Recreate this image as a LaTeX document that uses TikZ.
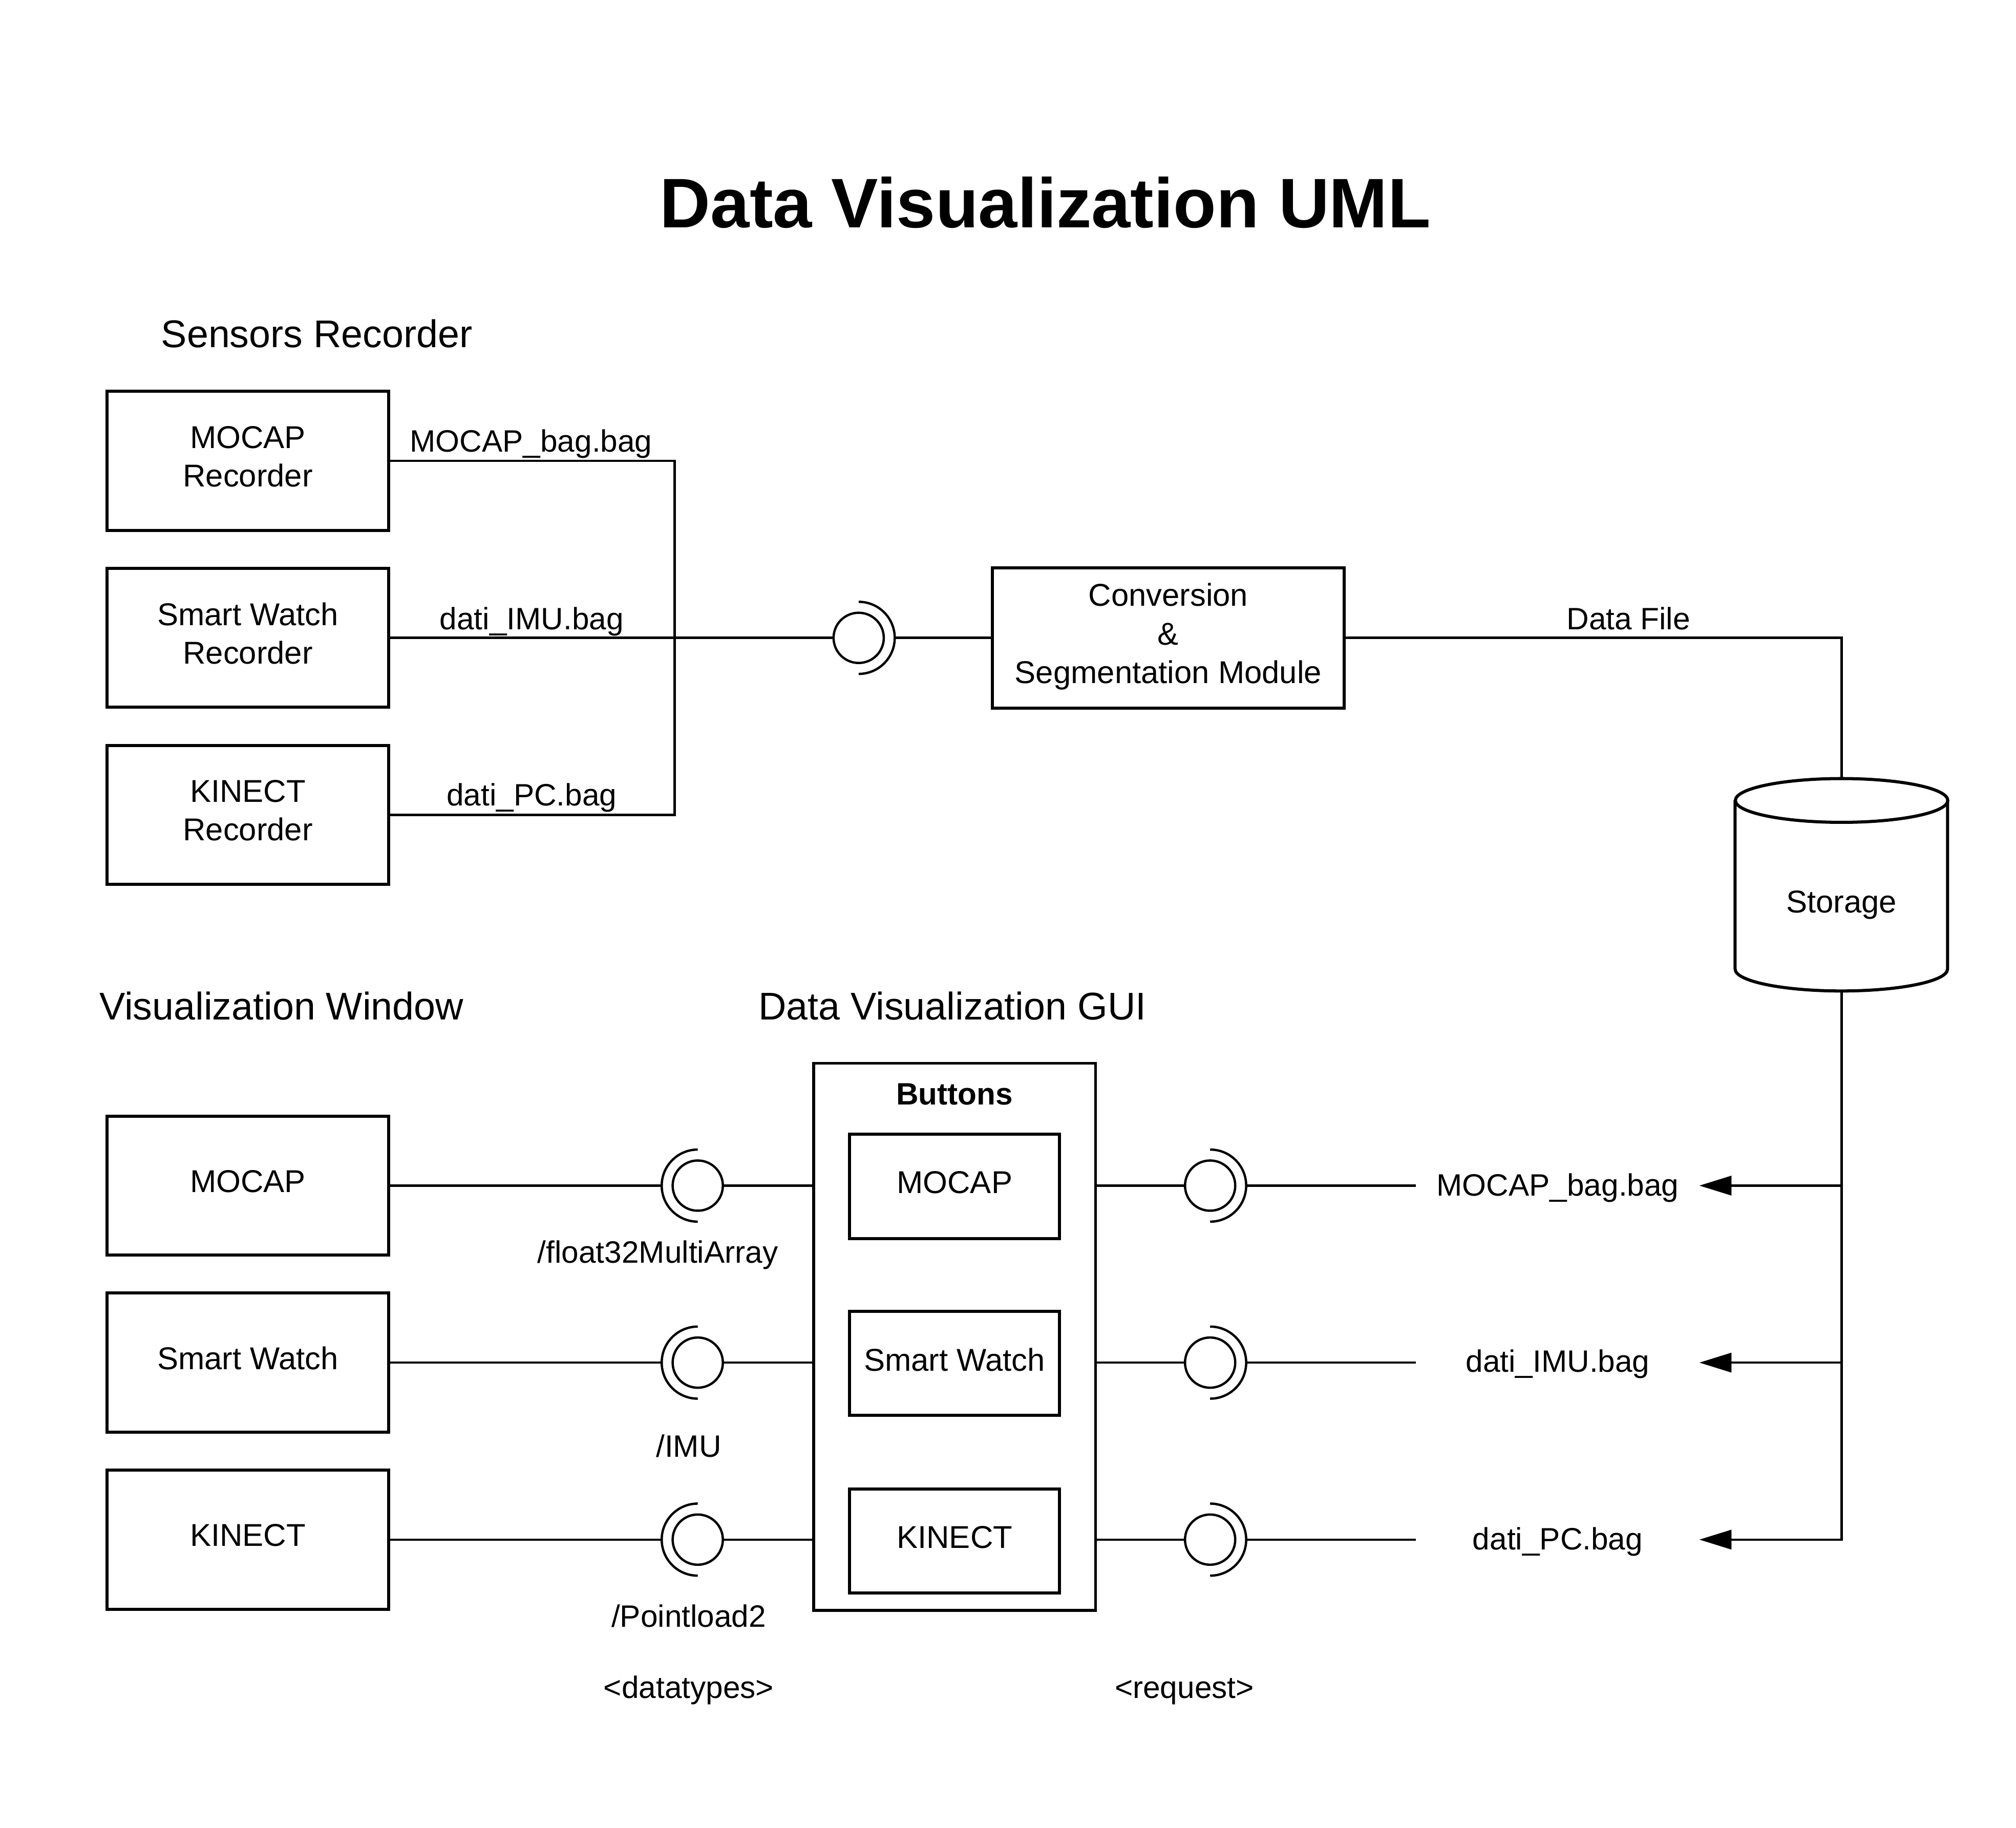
\documentclass[tikz,border=0pt]{standalone}
\usepackage{fontspec}
\setmainfont{Liberation Sans}
\usetikzlibrary{arrows.meta}
\begin{document}
\begin{tikzpicture}[x=1pt,y=-1pt,
  box/.style={draw, line width=2.4pt, minimum width=219pt, minimum height=108pt, inner sep=0pt, align=center, text depth=7pt, font=\fontsize{24.5}{30}\selectfont},
  btn/.style={draw, line width=2.4pt, minimum width=163pt, minimum height=81pt, inner sep=0pt, text depth=6pt, font=\fontsize{24.5}{30}\selectfont},
  conn/.style={line width=1.8pt},
  ball/.style={circle, draw, line width=1.8pt, minimum size=39pt, inner sep=0pt},
  lbl/.style={inner sep=0pt, anchor=base, font=\fontsize{24}{29}\selectfont},
  head/.style={inner sep=0pt, anchor=base west, font=\fontsize{30}{36}\selectfont},
  arr/.style={conn, -{Triangle[length=25pt,width=15pt]}}
]
\useasboundingbox (0,0) rectangle (1566,1420);

% headings
\node[inner sep=0pt, anchor=base, font=\bfseries\fontsize{54.5}{60}\selectfont] (title) at (812,177) {Data Visualization UML};
\node[head] (hSens) at (125,270) {Sensors Recorder};
\node[head] (hVis) at (77,792) {Visualization Window};
\node[head] (hGui) at (589,792) {Data Visualization GUI};

% sensors recorder
\node[box] (mocapRec) at (192.5,358) {MOCAP\\Recorder};
\node[box] (swRec) at (192.5,495.5) {Smart Watch\\Recorder};
\node[box] (kinRec) at (192.5,633) {KINECT\\Recorder};
\node[box, minimum width=273pt, minimum height=109pt] (conv) at (907.5,495.5) {Conversion\\\&\\Segmentation Module};

% storage cylinder
\node[minimum width=165pt, minimum height=165pt, inner sep=0pt] (storage) at (1430.5,687.5) {};
\draw[line width=2.4pt] (storage.north) ++(0,17) ellipse[x radius=82.5, y radius=17];
\draw[line width=2.4pt] (storage.north west) ++(0,17) -- ++(0,131) arc[start angle=180, end angle=0, x radius=82.5, y radius=17] -- ++(0,-131);
\node[lbl, font=\fontsize{24.5}{30}\selectfont] (storLbl) at (1430.5,709) {Storage};

% top socket
\node[ball] (bA) at (667,495.5) {};
\draw[conn] (bA.center) ++(0,28) arc[start angle=90, end angle=-90, radius=28];
\coordinate (sA) at (695,495.5);

\coordinate (jtop) at (524,358);
\coordinate (jbot) at (524,633);
\draw[conn] (mocapRec.east) -- (jtop) -- (jbot) -- (kinRec.east);
\draw[conn] (swRec.east) -- (bA.west);
\draw[conn] (sA) -- (conv.west);
\draw[conn] (conv.east) -| (storage.north);

\node[lbl] (lMo) at (412.5,351) {MOCAP\_bag.bag};
\node[lbl] (lIm) at (413,489) {dati\_IMU.bag};
\node[lbl] (lPc) at (413,626) {dati\_PC.bag};
\node[lbl] (lDf) at (1265,489) {Data File};

% visualization window
\node[box] (mocapWin) at (192.5,921) {MOCAP};
\node[box] (swWin) at (192.5,1058.5) {Smart Watch};
\node[box] (kinWin) at (192.5,1196) {KINECT};

% GUI
\node[draw, line width=2.2pt, minimum width=219pt, minimum height=425pt, inner sep=0pt] (gui) at (741.5,1038.5) {};
\node[lbl, font=\bfseries\fontsize{24}{29}\selectfont] (btns) at (741.5,858) {Buttons};
\node[btn] (bMo) at (741.5,921.5) {MOCAP};
\node[btn] (bSw) at (741.5,1059) {Smart Watch};
\node[btn] (bKi) at (741.5,1197) {KINECT};

% left sockets
\foreach \n/\y in {L1/921,L2/1058.5,L3/1196}{
  \node[ball] (b\n) at (542,\y) {};
  \draw[conn] (b\n.center) ++(0,28) arc[start angle=90, end angle=270, radius=28];
  \coordinate (s\n) at (514,\y);
}
\draw[conn] (mocapWin.east) -- (sL1);
\draw[conn] (swWin.east) -- (sL2);
\draw[conn] (kinWin.east) -- (sL3);
\draw[conn] (bL1.east) -- (gui.west |- bL1);
\draw[conn] (bL2.east) -- (gui.west |- bL2);
\draw[conn] (bL3.east) -- (gui.west |- bL3);

% right sockets
\foreach \n/\y in {R1/921,R2/1058.5,R3/1196}{
  \node[ball] (b\n) at (940,\y) {};
  \draw[conn] (b\n.center) ++(0,28) arc[start angle=90, end angle=-90, radius=28];
  \coordinate (s\n) at (968,\y);
  \coordinate (e\n) at (1100,\y);
  \coordinate (t\n) at (1320,\y);
}
\draw[conn] (gui.east |- bR1) -- (bR1.west);
\draw[conn] (gui.east |- bR2) -- (bR2.west);
\draw[conn] (gui.east |- bR3) -- (bR3.west);
\draw[conn] (sR1) -- (eR1);
\draw[conn] (sR2) -- (eR2);
\draw[conn] (sR3) -- (eR3);

\node[lbl] (rMo) at (1210,929) {MOCAP\_bag.bag};
\node[lbl] (rIm) at (1210,1066) {dati\_IMU.bag};
\node[lbl] (rPc) at (1210,1204) {dati\_PC.bag};

% storage arrows
\draw[arr] (storage.south) |- (tR3);
\draw[arr] (storage.south |- tR1) -- (tR1);
\draw[arr] (storage.south |- tR2) -- (tR2);

% datatype labels
\node[lbl] (dF) at (511,981) {/float32MultiArray};
\node[lbl] (dI) at (535,1132) {/IMU};
\node[lbl] (dP) at (535,1264) {/Pointload2};
\node[lbl] (dT) at (535,1319) {<datatypes>};
\node[lbl] (dR) at (920,1319) {<request>};
\end{tikzpicture}
\end{document}
